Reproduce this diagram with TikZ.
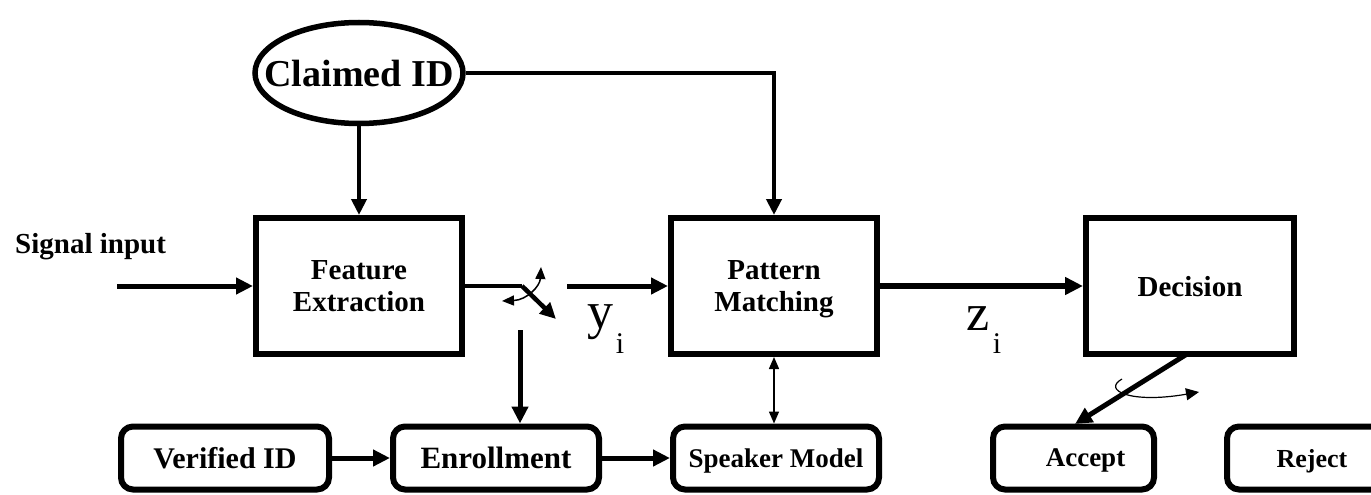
\documentclass[tikz,border=0pt]{standalone}
\usepackage{fontspec}
\setmainfont{Liberation Serif}
\usetikzlibrary{arrows.meta,shapes.geometric}
\tikzset{
  blk/.style={draw, line width=6pt, minimum width=206pt, minimum height=136pt,
    inner sep=0pt, align=center, text depth=0pt, font=\bfseries\fontsize{29}{32}\selectfont},
  rbox/.style={draw, line width=6pt, rounded corners=12pt, minimum height=63pt,
    inner sep=0pt, align=center, text depth=0pt, font=\bfseries\fontsize{29}{32}\selectfont},
  thick arrow/.style={line width=5pt, -{Triangle[length=17pt,width=16pt]}},
  thin arrow/.style={line width=1.5pt},
  lbl/.style={inner sep=0pt, anchor=base, font=\fontsize{52}{60}\selectfont},
  sublbl/.style={inner sep=0pt, anchor=base, font=\fontsize{30}{34}\selectfont}
}
\begin{document}
\begin{tikzpicture}[x=1pt,y=-1pt]
\useasboundingbox (0,0) rectangle (1371,495);
\clip (0,0) rectangle (1371,495);
% main blocks
\node[draw, ellipse, line width=5.5pt, minimum width=208pt, minimum height=101pt,
  inner xsep=-30pt, inner ysep=0pt, text depth=0pt, font=\bfseries\fontsize{38}{44}\selectfont] (cid) at (359,73) {Claimed ID};
\node[blk] (fe) at (359,286) {Feature\\Extraction};
\node[blk] (pm) at (774,286) {Pattern\\Matching};
\node[blk, minimum width=208pt] (dec) at (1190,286) {Decision};
% bottom row
\node[rbox, minimum width=208pt, font=\bfseries\fontsize{30}{32}\selectfont] (vid) at (225,458) {Verified ID};
\node[rbox, minimum width=206pt, font=\bfseries\fontsize{31}{32}\selectfont] (enr) at (496,458) {Enrollment};
\node[rbox, minimum width=206pt, font=\bfseries\fontsize{27}{32}\selectfont] (spk) at (776,458) {Speaker Model};
\node[rbox, minimum width=161pt, font=\bfseries\fontsize{27}{32}\selectfont] (acc) at (1073.5,458) {\hspace*{24pt}Accept};
\node[rbox, minimum width=170pt, font=\bfseries\fontsize{26}{32}\selectfont] (rej) at (1312,458) {Reject};
% labels
\node[inner sep=0pt, anchor=base west, font=\bfseries\fontsize{29}{32}\selectfont] (sig) at (15,253) {Signal input};
\node[lbl] (ylab) at (600,328) {y};
\node[sublbl] (ysub) at (620,353) {i};
\node[lbl] (zlab) at (978,330) {z};
\node[sublbl] (zsub) at (997,353) {i};
% coordinates
\coordinate (sigstart) at (117,286);
\coordinate (pivot) at (522,286);
\coordinate (swtip) at (556,319);
\coordinate (swout) at (567,286);
\coordinate (down) at (520,330);
\coordinate (curvA) at (502,301);
\coordinate (curvB) at (541,267);
\coordinate (decout) at (1187,354);
\coordinate (accin) at (1075,424);
\coordinate (hookA) at (1122,379);
\coordinate (hookB) at (1199,392);
% connectors
\draw[thick arrow] (sigstart) -- (fe.west);
\draw[line width=4.5pt, -{Triangle[length=16pt,width=15pt]}] (cid.south) -- (fe.north);
\draw[line width=4.5pt, -{Triangle[length=16pt,width=15pt]}] (cid.east) -| (pm.north);
\draw[line width=4.5pt] (fe.east) -- (pivot);
\draw[line width=4.5pt, -{Triangle[length=16pt,width=15pt]}] (pivot) -- (swtip);
\draw[thin arrow, {Triangle[length=12pt,width=10pt]}-{Triangle[length=12pt,width=10pt]}]
  (curvA) .. controls (527,300) and (540,286) .. (curvB);
\draw[thick arrow] (swout) -- (pm.west);
\draw[thick arrow] (down) -- (down |- enr.north);
\draw[line width=6pt, -{Triangle[length=18pt,width=17pt]}] (pm.east) -- (dec.west);
\draw[thin arrow, {Triangle[length=12pt,width=10pt]}-{Triangle[length=12pt,width=10pt]}]
  (pm.south) -- (pm.south |- spk.north);
\draw[thick arrow] (vid.east) -- (enr.west);
\draw[thick arrow] (enr.east) -- (spk.west);
\draw[thick arrow] (decout) -- (accin);
\draw[line width=1.2pt, -{Triangle[length=13pt,width=12pt]}]
  (hookA) .. controls (1102,390) and (1130,404) .. (hookB);
\end{tikzpicture}
\end{document}
